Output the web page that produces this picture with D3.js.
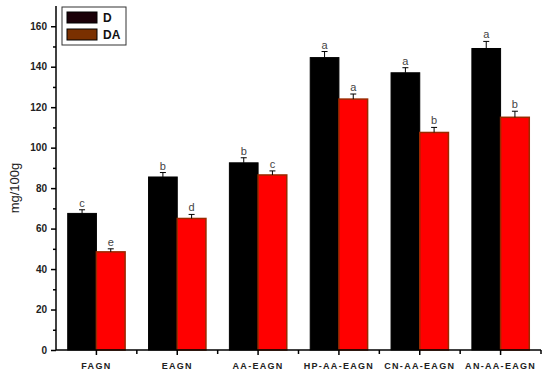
<!DOCTYPE html>
<html><head><meta charset="utf-8">
<script src="https://cdn.jsdelivr.net/npm/d3@7"></script>
<style>body{margin:0;background:#fff}svg{display:block}</style>
</head><body><svg id="c" width="550" height="379"></svg>
<script>
const categories = ["FAGN","EAGN","AA-EAGN","HP-AA-EAGN","CN-AA-EAGN","AN-AA-EAGN"];
const seriesNames = ["D","DA"];
const valuesD = [67.5, 85.5, 92.5, 144.5, 137, 149];
const valuesDA = [48.5, 65, 86.5, 124, 107.5, 115];
const errD = [1.8, 2.2, 2.5, 3, 2.5, 3.5];
const errDA = [1.5, 2, 2, 2.5, 2.5, 3];
const lettersD = ["c","b","b","a","a","a"];
const lettersDA = ["e","d","c","a","b","b"];
const yTicks = [0,20,40,60,80,100,120,140,160];

const svg = d3.select("#c");
const m = {l:56, r:9, t:6, b:29};
const W = 550, H = 379;
const x = d3.scaleBand().domain(categories).range([m.l, W - m.r]).paddingInner(0).paddingOuter(0);
const y = d3.scaleLinear().domain([0,170]).range([H - m.b, m.t]);
const bw = x.bandwidth()*0.355;

const data = categories.map((c,i)=>({c, D:valuesD[i], DA:valuesDA[i], eD:errD[i], eDA:errDA[i], lD:lettersD[i], lDA:lettersDA[i]}));

const g = svg.append("g");
data.forEach(d=>{
  const cx = x(d.c) + x.bandwidth()/2;
  g.append("rect").attr("x", cx - bw).attr("y", y(d.D)).attr("width", bw).attr("height", y(0)-y(d.D))
    .attr("fill","#000").attr("stroke","#000").attr("stroke-width",1);
  g.append("rect").attr("x", cx).attr("y", y(d.DA)).attr("width", bw).attr("height", y(0)-y(d.DA))
    .attr("fill","#ff0000").attr("stroke","#9a2a00").attr("stroke-width",1.5);
  [[cx - bw/2, d.D, d.eD, d.lD],[cx + bw/2, d.DA, d.eDA, d.lDA]].forEach(([ex,v,e,l])=>{
    g.append("line").attr("x1",ex).attr("x2",ex).attr("y1",y(v)).attr("y2",y(v+e)).attr("stroke","#000").attr("stroke-width",1);
    g.append("line").attr("x1",ex-3).attr("x2",ex+3).attr("y1",y(v+e)).attr("y2",y(v+e)).attr("stroke","#000").attr("stroke-width",1);
    g.append("text").attr("x",ex).attr("y",y(v+e)-3).attr("text-anchor","middle")
      .attr("font-family","Liberation Sans, Arial, sans-serif").attr("font-size",11).attr("fill","#444").text(l);
  });
});

const yAxis = svg.append("g").attr("transform",`translate(${m.l},0)`)
  .call(d3.axisLeft(y).tickValues(yTicks).tickSize(5).tickPadding(4));
yAxis.select(".domain").attr("stroke-width",1.5).attr("d",`M0,${y(0)}V${m.t}`);
yAxis.selectAll(".tick line").attr("stroke-width",1.5);
yAxis.selectAll("text").attr("font-family","Liberation Sans, Arial, sans-serif").attr("font-size",10).attr("font-weight","bold").attr("fill","#222");
svg.append("g").attr("transform",`translate(${m.l},0)`)
  .call(d3.axisLeft(y).tickValues(d3.range(10,170,20)).tickSize(3).tickFormat(""))
  .call(s=>s.select(".domain").remove()).selectAll("line").attr("stroke-width",1.5);

const xAxis = svg.append("g").attr("transform",`translate(0,${y(0)})`)
  .call(d3.axisBottom(x).tickSize(5).tickPadding(8).tickSizeOuter(0));
xAxis.select(".domain").attr("stroke-width",1.5).attr("d",`M${m.l},0H${W-m.r}`);
xAxis.selectAll(".tick line").attr("stroke-width",1.5);
xAxis.selectAll("text").attr("font-family","Liberation Sans, Arial, sans-serif").attr("font-size",9).attr("font-weight","bold").attr("letter-spacing","1.3px").attr("fill","#222");
const minorX = categories.slice(1).map(c=>x(c)).concat([W-m.r]);
svg.append("g").selectAll("line").data(minorX).join("line")
  .attr("x1",d=>d).attr("x2",d=>d).attr("y1",y(0)).attr("y2",y(0)+4).attr("stroke","#000").attr("stroke-width",1.5);

svg.append("text").attr("transform",`translate(19,${(y(0)+m.t)/2 + 10}) rotate(-90)`).attr("text-anchor","middle")
  .attr("font-family","Liberation Sans, Arial, sans-serif").attr("font-size",13).attr("fill","#222").text("mg/100g");

const lg = svg.append("g").attr("transform","translate(62,7)");
lg.append("rect").attr("width",64).attr("height",38).attr("fill","#fff").attr("stroke","#333").attr("stroke-width",1);
const legColors = ["#1a0008","#7a3000"];
seriesNames.forEach((s,i)=>{
  lg.append("rect").attr("x",5).attr("y",5+i*17).attr("width",30).attr("height",11).attr("fill",legColors[i]).attr("stroke","#000").attr("stroke-width",1);
  lg.append("text").attr("x",41).attr("y",15+i*17).attr("font-family","Liberation Sans, Arial, sans-serif").attr("font-size",12).attr("font-weight","bold").attr("fill","#111").text(s);
});
</script></body></html>
